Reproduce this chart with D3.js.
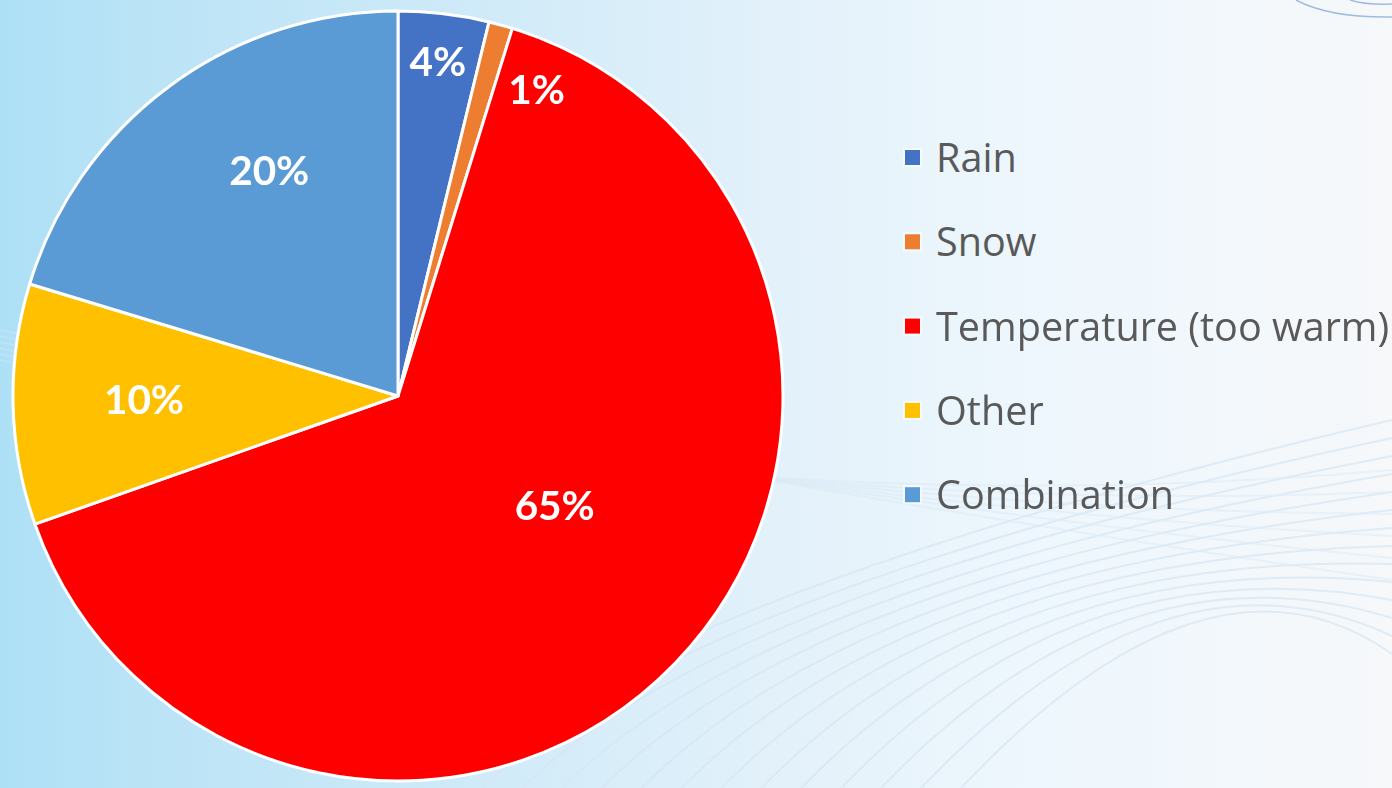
<!DOCTYPE html>
<html lang="en">
  <head>
    <meta charset="UTF-8" />
    <title>Causes</title>
    <script src="https://d3js.org/d3.v7.min.js"></script>
    <style>
      body { margin: 0; overflow: hidden; }
    </style>
  </head>
  <body>
    <script>
      var categories = ["Rain", "Snow", "Temperature (too warm)", "Other", "Combination"];
      var values = [3.8, 1.0, 64.8, 10.1, 20.3];
      var labels = ["4%", "1%", "65%", "10%", "20%"];
      var colors = ["#4472c4", "#ed7d31", "#ff0000", "#ffc000", "#5b9bd5"];

      var W = 1392, H = 788;
      var cx = 398, cy = 396, R = 385;

      var svg = d3.select("body").append("svg")
        .attr("width", W).attr("height", H);

      // background gradient
      var defs = svg.append("defs");
      var grad = defs.append("linearGradient").attr("id", "bg")
        .attr("x1", "0").attr("x2", "1").attr("y1", "0").attr("y2", "0");
      [[0, "#ade0f6"], [0.09, "#b9e3f6"], [0.56, "#e3f1fa"], [0.75, "#eef7fd"], [1, "#f6f8fa"]]
        .forEach(function (s) {
          grad.append("stop").attr("offset", s[0]).attr("stop-color", s[1]);
        });
      svg.append("rect").attr("width", W).attr("height", H).attr("fill", "url(#bg)");

      // faint decorative swoosh lines
      var deco = svg.append("g").attr("fill", "none").attr("stroke", "#d6e6f3")
        .attr("stroke-width", 2).attr("opacity", 0.7);
      for (var i = 0; i < 14; i++) {
        var p = d3.path();
        p.moveTo(430 + i * 40, 800);
        p.quadraticCurveTo(620 + i * 45, 600 - i * 6, 1392, 420 + i * 18);
        deco.append("path").attr("d", p.toString());
      }
      for (var j = 0; j < 6; j++) {
        var q = d3.path();
        q.moveTo(0, 360 - j * 6);
        q.quadraticCurveTo(700, 530 - j * 10, 1392, 470 + j * 22);
        deco.append("path").attr("d", q.toString()).attr("opacity", 0.6);
      }
      var corner = svg.append("g").attr("fill", "none").attr("stroke", "#9dbbe3").attr("stroke-width", 1.5);
      corner.append("path").attr("d", "M1296,0 Q1330,18 1392,17");
      corner.append("path").attr("d", "M1350,0 Q1365,5 1392,4");

      var pie = d3.pie().sort(null).value(function (d) { return d; });
      var arcs = pie(values);
      var total = d3.sum(values);
      var arc = d3.arc().innerRadius(0).outerRadius(R);

      var g = svg.append("g").attr("transform", "translate(" + cx + "," + cy + ")");

      g.selectAll(".slice")
        .data(arcs)
        .enter()
        .append("path")
        .attr("class", "slice")
        .attr("d", arc)
        .attr("fill", function (d, i) { return colors[i]; })
        .attr("stroke", "#ffffff")
        .attr("stroke-width", 3)
        .attr("stroke-linejoin", "round");

      // label placement roughly like Excel's best fit
      function labelPos(d) {
        var frac = d.value / total;
        var a = (d.startAngle + d.endAngle) / 2;
        var r;
        if (frac < 0.05) r = 0.87 * R;
        else if (frac > 0.5) { r = 0.5 * R; a -= 0.147; }
        else if (frac > 0.15) { r = 0.67 * R; a += 0.115; }
        else r = 0.66 * R;
        if (frac < 0.02) a = d.endAngle + 0.125;
        return [r * Math.sin(a), -r * Math.cos(a) - 3];
      }

      g.selectAll(".lbl")
        .data(arcs)
        .enter()
        .append("text")
        .attr("class", "lbl")
        .attr("x", function (d) { return labelPos(d)[0]; })
        .attr("y", function (d) { return labelPos(d)[1]; })
        .attr("text-anchor", "middle")
        .attr("dominant-baseline", "central")
        .style("font-family", "Lato, 'Open Sans', sans-serif")
        .style("font-weight", "bold")
        .style("font-size", "40.5px")
        .attr("fill", "#ffffff")
        .text(function (d, i) { return labels[i]; });

      // legend
      var legend = svg.append("g").attr("transform", "translate(905,157)");
      var row = legend.selectAll(".row")
        .data(categories)
        .enter()
        .append("g")
        .attr("class", "row")
        .attr("transform", function (d, i) { return "translate(0," + i * 84.3 + ")"; });

      row.append("rect")
        .attr("x", -2).attr("y", -9).attr("width", 19).attr("height", 19)
        .attr("fill", "#ffffff").attr("opacity", 0.6);
      row.append("rect")
        .attr("x", 0).attr("y", -7).attr("width", 15).attr("height", 15)
        .attr("fill", function (d, i) { return colors[i]; });
      row.append("text")
        .attr("x", 31)
        .attr("y", 0)
        .attr("dominant-baseline", "central")
        .style("font-family", "'Open Sans', sans-serif")
        .style("font-size", "39.6px")
        .attr("fill", "#595959")
        .text(function (d) { return d; });
    </script>
  </body>
</html>
